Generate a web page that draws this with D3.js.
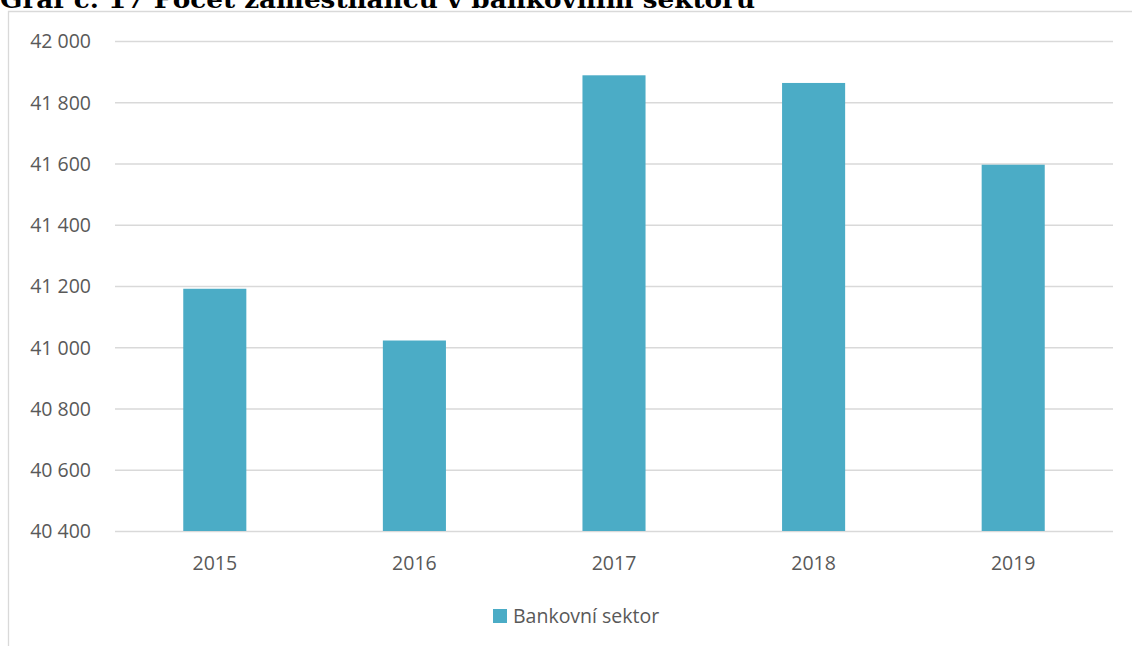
<!DOCTYPE html>
<html>
<head>
<meta charset="utf-8">
<script src="https://cdn.jsdelivr.net/npm/d3@7"></script>
<style>
  html, body { margin: 0; padding: 0; background: #fff; overflow: hidden; }
  svg { display: block; }
</style>
</head>
<body>
<svg id="chart" width="1132" height="646"></svg>
<script>
// Počet zaměstnanců v bankovním sektoru, 2015–2019
const years = ["2015", "2016", "2017", "2018", "2019"];
const employees = [41191, 41022, 41888, 41863, 41596];
const yTicks = [40400, 40600, 40800, 41000, 41200, 41400, 41600, 41800, 42000];
const seriesName = "Bankovní sektor";
const titleText = "Graf č. 17 Počet zaměstnanců v bankovním sektoru";

const W = 1132, H = 646;
const plot = { left: 115, right: 1113, top: 41, bottom: 531 };
const barColor = "#4bacc6";
const gridColor = "#d9d9d9";
const textColor = "#595959";
const font = "'Open Sans', 'Noto Sans', sans-serif";

const svg = d3.select("#chart");

// Title (its upper part runs above the page edge)
svg.append("text")
  .attr("x", 0).attr("y", 8)
  .attr("font-family", "'DejaVu Serif', 'Liberation Serif', serif")
  .attr("font-weight", "bold")
  .attr("font-size", 25)
  .attr("textLength", 755)
  .attr("lengthAdjust", "spacingAndGlyphs")
  .attr("fill", "#000")
  .text(titleText);

// Chart area frame (continues past the right and bottom edges)
svg.append("path")
  .attr("d", `M8.5,${H + 2} V11.5 H${W + 2}`)
  .attr("fill", "none")
  .attr("stroke", gridColor)
  .attr("stroke-width", 1.3);

const x = d3.scaleBand()
  .domain(years)
  .range([plot.left, plot.right])
  .paddingInner(0.684)
  .paddingOuter(0.342);

const y = d3.scaleLinear()
  .domain([40400, 42000])
  .range([plot.bottom, plot.top]);

const fmt = v => d3.format(",")(v).replace(/,/g, " ");

// Horizontal gridlines + value labels
const yAxis = d3.axisLeft(y)
  .tickValues(yTicks)
  .tickSize(-(plot.right - plot.left))
  .tickPadding(24)
  .tickFormat(fmt);

const gy = svg.append("g")
  .attr("transform", `translate(${plot.left},0)`)
  .call(yAxis);
gy.select(".domain").remove();
gy.selectAll(".tick line")
  .attr("stroke", gridColor)
  .attr("stroke-width", 1.3);
gy.selectAll(".tick text")
  .attr("font-family", font)
  .attr("font-size", 19.5)
  .attr("fill", textColor)
  .attr("dy", "0.35em");

// Bars
svg.append("g")
  .selectAll("rect")
  .data(years.map((yr, i) => ({ yr, v: employees[i] })))
  .join("rect")
  .attr("x", d => x(d.yr))
  .attr("width", x.bandwidth())
  .attr("y", d => y(d.v))
  .attr("height", d => y(40400) - y(d.v))
  .attr("fill", barColor);

// Category labels
const xAxis = d3.axisBottom(x).tickSize(0).tickPadding(0);
const gx = svg.append("g")
  .attr("transform", `translate(0,${plot.bottom})`)
  .call(xAxis);
gx.select(".domain").remove();
gx.selectAll(".tick text")
  .attr("font-family", font)
  .attr("font-size", 19.5)
  .attr("fill", textColor)
  .attr("y", 39)
  .attr("dy", 0);

// Legend
const legend = svg.append("g").attr("transform", "translate(493,609)");
legend.append("rect")
  .attr("width", 14).attr("height", 14)
  .attr("fill", barColor);
legend.append("text")
  .attr("x", 20).attr("y", 13.5)
  .attr("font-family", font)
  .attr("font-size", 19.5)
  .attr("fill", textColor)
  .text(seriesName);
</script>
</body>
</html>
